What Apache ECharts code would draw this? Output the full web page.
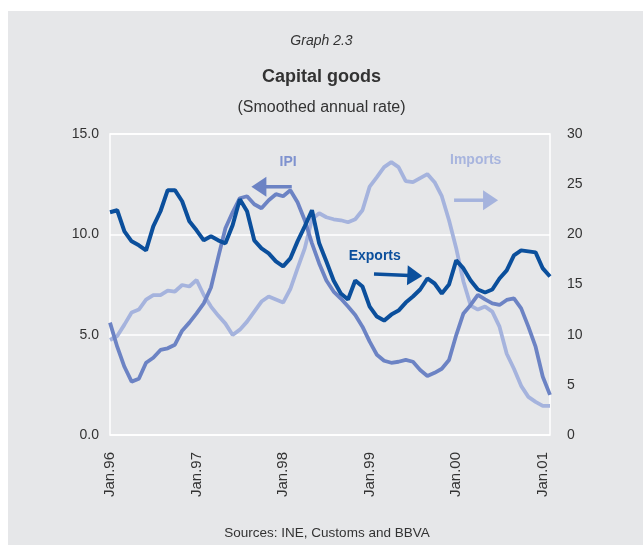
<!DOCTYPE html>
<html><head><meta charset="utf-8">
<script src="https://cdn.jsdelivr.net/npm/echarts@6/dist/echarts.min.js"></script>
<style>
html,body{margin:0;padding:0;background:#fff;}
#bg{position:absolute;left:8px;top:11px;width:635px;height:534px;background:#e6e7e9;}
#chart{position:absolute;left:0;top:0;width:643px;height:545px;}
</style></head><body>
<div id="bg"></div><div id="chart"></div>
<script>
const months = [
 'Jan.96','Feb.96','Mar.96','Apr.96','May.96','Jun.96','Jul.96','Aug.96','Sep.96','Oct.96','Nov.96','Dec.96',
 'Jan.97','Feb.97','Mar.97','Apr.97','May.97','Jun.97','Jul.97','Aug.97','Sep.97','Oct.97','Nov.97','Dec.97',
 'Jan.98','Feb.98','Mar.98','Apr.98','May.98','Jun.98','Jul.98','Aug.98','Sep.98','Oct.98','Nov.98','Dec.98',
 'Jan.99','Feb.99','Mar.99','Apr.99','May.99','Jun.99','Jul.99','Aug.99','Sep.99','Oct.99','Nov.99','Dec.99',
 'Jan.00','Feb.00','Mar.00','Apr.00','May.00','Jun.00','Jul.00','Aug.00','Sep.00','Oct.00','Nov.00','Dec.00',
 'Jan.01','Feb.01'];

// Exports (right axis)
const exportsData = [22.2,22.4,20.3,19.3,18.9,18.4,20.8,22.3,24.4,24.4,23.3,21.3,
 20.4,19.4,19.8,19.4,19.1,20.9,23.5,22.3,19.4,18.6,18.1,17.3,
 16.8,17.6,19.3,20.8,22.4,19.1,17.3,15.4,14.1,13.5,15.4,14.8,
 12.8,11.8,11.4,12.0,12.4,13.2,13.8,14.5,15.6,15.1,14.1,15.0,
 17.4,16.6,15.4,14.5,14.2,14.5,15.6,16.4,17.9,18.4,18.3,18.2,
 16.6,15.8];

// IPI (left axis)
const ipiData = [5.6,4.4,3.4,2.66,2.8,3.6,3.85,4.24,4.32,4.5,5.2,5.6,
 6.06,6.56,7.35,8.85,10.3,11.1,11.8,11.9,11.5,11.3,11.7,12.0,
 11.9,12.2,11.6,10.7,9.55,8.55,7.7,7.15,6.8,6.4,5.98,5.4,
 4.65,4.0,3.7,3.6,3.65,3.74,3.65,3.24,2.94,3.1,3.3,3.74,
 4.98,6.06,6.48,6.98,6.76,6.56,6.48,6.73,6.81,6.31,5.4,4.4,
 2.9,2.0];

// Imports (right axis)
const importsData = [9.47,9.87,11.0,12.2,12.5,13.5,13.95,13.95,14.4,14.3,14.95,14.8,
 15.45,13.95,12.8,11.9,11.1,9.97,10.5,11.3,12.3,13.3,13.8,13.5,
 13.2,14.55,16.6,18.6,21.5,22.1,21.7,21.5,21.4,21.2,21.5,22.4,
 24.75,25.7,26.7,27.2,26.7,25.3,25.2,25.6,26.0,25.2,23.8,21.4,
 18.6,15.3,12.9,12.5,12.8,12.3,10.8,8.1,6.6,4.9,3.8,3.3,
 2.9,2.9];

const COL_EXP = '#0b4f9c', COL_IPI = '#6c83c4', COL_IMP = '#a5b3dd';

const labels = [
 {text:'IPI', idx:24.7, val:13.6, axis:0, color:'#7f92cf'},
 {text:'Imports', idx:50.7, val:27.4, axis:1, color:'#a8b5de'},
 {text:'Exports', idx:36.7, val:17.85, axis:1, color:COL_EXP}
];
const arrows = [
 {from:[25.2,12.37], to:[19.6,12.37], axis:0, color:COL_IPI},
 {from:[47.7,23.4], to:[53.8,23.4], axis:1, color:COL_IMP},
 {from:[36.6,16.05], to:[43.3,15.85], axis:1, color:COL_EXP}
];

const FONT = '"Liberation Sans", Arial, sans-serif';

const option = {
  animation: false,
  grid: {left:110, right:93, top:134, bottom:110, show:true, borderColor:'#ffffff', borderWidth:1.5, backgroundColor:'transparent'},
  xAxis: {
    type:'category', data: months, boundaryGap:false,
    axisLine:{show:false}, axisTick:{show:false}, splitLine:{show:false},
    axisLabel:{
      rotate:90, margin:17, fontSize:15, color:'#333', fontFamily:FONT, padding:[6,0,0,0],
      interval: function(i, v){ return v.indexOf('Jan') === 0; }
    }
  },
  yAxis: [
    {type:'value', min:0, max:15, interval:5,
     axisLine:{show:false}, axisTick:{show:false},
     splitLine:{show:true, lineStyle:{color:'#ffffff', width:1.5}},
     axisLabel:{margin:11, fontSize:14, color:'#333', fontFamily:FONT, formatter: v => v.toFixed(1)}},
    {type:'value', min:0, max:30, interval:5, position:'right',
     axisLine:{show:false}, axisTick:{show:false}, splitLine:{show:false},
     axisLabel:{margin:17, fontSize:14, color:'#333', fontFamily:FONT}}
  ],
  series: [
    {name:'Imports', type:'line', yAxisIndex:1, data:importsData, symbol:'none', smooth:false,
     lineStyle:{color:COL_IMP, width:3.8}, z:2},
    {name:'IPI', type:'line', yAxisIndex:0, data:ipiData, symbol:'none', smooth:false,
     lineStyle:{color:COL_IPI, width:3.8}, z:3},
    {name:'Exports', type:'line', yAxisIndex:1, data:exportsData, symbol:'none', smooth:false,
     lineStyle:{color:COL_EXP, width:4}, z:4}
  ]
};

const chart = echarts.init(document.getElementById('chart'));
chart.setOption(option);

const x0 = chart.convertToPixel({xAxisIndex:0}, 0);
const xN = chart.convertToPixel({xAxisIndex:0}, months.length - 1);
function px(idx, val, axis){
  return [x0 + (xN - x0) * idx / (months.length - 1), chart.convertToPixel({yAxisIndex:axis}, val)];
}

const graphics = [
  {type:'text', x:321.5, y:41, style:{text:'Graph 2.3', font:'italic 14px ' + FONT, fill:'#333', textAlign:'center', textVerticalAlign:'middle'}},
  {type:'text', x:321.5, y:77, style:{text:'Capital goods', font:'bold 18px ' + FONT, fill:'#333', textAlign:'center', textVerticalAlign:'middle'}},
  {type:'text', x:321.5, y:108, style:{text:'(Smoothed annual rate)', font:'16px ' + FONT, fill:'#333', textAlign:'center', textVerticalAlign:'middle'}},
  {type:'text', x:327, y:533, style:{text:'Sources: INE, Customs and BBVA', font:'13.5px ' + FONT, fill:'#333', textAlign:'center', textVerticalAlign:'middle'}}
];

labels.forEach(l => {
  const p = px(l.idx, l.val, l.axis);
  graphics.push({type:'text', x:p[0], y:p[1], z:10,
    style:{text:l.text, font:'bold 14px ' + FONT, fill:l.color, textAlign:'center', textVerticalAlign:'middle'}});
});

arrows.forEach(a => {
  const t = px(a.from[0], a.from[1], a.axis);
  const h = px(a.to[0], a.to[1], a.axis);
  const dx = h[0]-t[0], dy = h[1]-t[1];
  const len = Math.sqrt(dx*dx+dy*dy);
  const ux = dx/len, uy = dy/len, nx = -uy, ny = ux;
  const L = 15, W = 10;
  const bx = h[0]-ux*L, by = h[1]-uy*L;
  graphics.push({type:'line', z:10, shape:{x1:t[0], y1:t[1], x2:bx+ux*2, y2:by+uy*2},
    style:{stroke:a.color, lineWidth:3.5}});
  graphics.push({type:'polygon', z:10, shape:{points:[[h[0],h[1]],[bx+nx*W,by+ny*W],[bx-nx*W,by-ny*W]]},
    style:{fill:a.color}});
});

chart.setOption({graphic: graphics});
</script>
</body></html>
